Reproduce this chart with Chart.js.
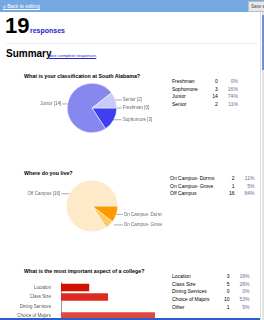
<!DOCTYPE html>
<html>
<head>
<meta charset="utf-8">
<script src="https://cdn.jsdelivr.net/npm/chart.js@4/dist/chart.umd.min.js"></script>
<style>
  html, body { margin: 0; padding: 0; width: 264px; height: 320px; overflow: hidden; background: #fff; font-family: "Liberation Sans", Arial, sans-serif; }
  .abs { position: absolute; }
  #topbar { left: 0; top: 0; width: 264px; height: 12px; background: #74a8e2; }
  #back { left: 3px; top: 3px; font-size: 5px; color: #fff; text-decoration: underline; }
  #savebtn { left: 248px; top: 1px; width: 18px; height: 9px; background: #e8e8e8; border: 1px solid #bbb; font-size: 4.5px; color: #444; line-height: 9px; padding-left: 2px; }
  #count { left: 5px; top: 13px; font-size: 22px; font-weight: bold; color: #000; }
  #resp { left: 30px; top: 27px; font-size: 7px; font-weight: bold; color: #2424c8; }
  #sep { left: 6px; top: 43px; width: 252px; height: 1px; background: #eee; }
  #summary { left: 6px; top: 48px; font-size: 10px; font-weight: bold; color: #000; }
  #seeall { left: 49px; top: 53px; font-size: 4.3px; color: #2424c8; text-decoration: underline; }
  .q { font-size: 5.3px; font-weight: bold; color: #000; white-space: nowrap; }
  table.t { position: absolute; border-collapse: collapse; font-size: 5px; color: #000; }
  table.t td { padding: 0; height: 7.7px; line-height: 7.7px; white-space: nowrap; }
  table.t td.n { text-align: right; width: 20px; }
  table.t td.p { text-align: right; width: 20px; color: #6a6a9a; }
  #rborder { left: 260px; top: 12px; width: 1px; height: 308px; background: #ddd; }
  #sbar { left: 262px; top: 12px; width: 2px; height: 308px; background: #e4e4e4; }
  #thumb { left: 262px; top: 15px; width: 2px; height: 55px; background: #6f8fd0; }
  #bottomline { left: 0; top: 318px; width: 260px; height: 2px; background: #2a5fc8; }
  canvas { position: absolute; }
</style>
</head>
<body>
<div id="topbar" class="abs"></div>
<div id="back" class="abs">« Back to editing</div>
<div id="savebtn" class="abs">Save as</div>
<div id="rborder" class="abs"></div>
<div id="sbar" class="abs"></div>
<div id="thumb" class="abs"></div>

<div id="count" class="abs">19</div>
<div id="resp" class="abs">responses</div>
<div id="sep" class="abs"></div>
<div id="summary" class="abs">Summary</div>
<div id="seeall" class="abs">See complete responses</div>

<div class="abs q" style="left:24px;top:73px">What is your classification at South Alabama?</div>
<canvas id="pie1" width="140" height="50" style="left:22px;top:83px"></canvas>
<table class="t" id="tab1" style="left:172px;top:78px"></table>

<div class="abs q" style="left:24px;top:170px">Where do you live?</div>
<canvas id="pie2" width="140" height="52" style="left:22px;top:180px"></canvas>
<table class="t" id="tab2" style="left:170px;top:175px"></table>

<div class="abs q" style="left:24px;top:268px">What is the most important aspect of a college?</div>
<canvas id="bar1" width="160" height="57" style="left:0px;top:278px"></canvas>
<table class="t" id="tab3" style="left:172px;top:273px"></table>

<div id="bottomline" class="abs"></div>

<script>
// pregunta 1
const clasesLabels = ['Freshman', 'Sophomore', 'Junior', 'Senior'];
const clasesValores = [0, 3, 14, 2];
const clasesPct = ['0%', '16%', '74%', '11%'];
const clasesColores = ['#1c1ce6', '#3f3ff0', '#8787f0', '#cacaf6'];

// pregunta 2
const viviendaLabels = ['On Campus- Dorms', 'On Campus- Grove', 'Off Campus'];
const viviendaValores = [2, 1, 16];
const viviendaPct = ['11%', '5%', '84%'];
const viviendaColores = ['#ff9900', '#ffc866', '#fee9c8'];

// pregunta 3
const aspectoLabels = ['Location', 'Class Size', 'Dining Services', 'Choice of Majors', 'Other'];
const aspectoValores = [3, 5, 0, 10, 1];
const aspectoPct = ['16%', '26%', '0%', '53%', '5%'];
const aspectoColores = ['#d11100', '#dc2b21', '#df3a30', '#e0483f', '#e45650'];

function llenarTabla(id, labels, valores, pct) {
    const tabla = document.getElementById(id);
    labels.forEach((l, i) => {
        const tr = document.createElement('tr');
        tr.innerHTML = '<td>' + l + '</td><td class="n">' + valores[i] + '</td><td class="p">' + pct[i] + '</td>';
        tabla.appendChild(tr);
    });
}

// etiquetas con linea guia, como en las tartas de google
const etiquetasTarta = {
    id: 'etiquetasTarta',
    afterDraw(chart) {
        const ctx = chart.ctx;
        const meta = chart.getDatasetMeta(0);
        const labels = chart.data.labels;
        const valores = chart.data.datasets[0].data;
        ctx.save();
        ctx.font = '4.5px "Liberation Sans", Arial, sans-serif';
        ctx.textBaseline = 'middle';
        meta.data.forEach((arc, i) => {
            const mid = (arc.startAngle + arc.endAngle) / 2;
            const r = arc.outerRadius;
            const ex = arc.x + r * Math.cos(mid);
            const y = arc.y + r * Math.sin(mid);
            const derecha = Math.cos(mid) >= 0;
            const x0 = derecha ? Math.max(ex, arc.x + r * 0.85) : Math.min(ex, arc.x - r * 0.85);
            const x1 = derecha ? arc.x + r + 5 : arc.x - r - 5;
            ctx.strokeStyle = '#888';
            ctx.lineWidth = 0.7;
            ctx.beginPath();
            ctx.moveTo(x0, y);
            ctx.lineTo(x1, y);
            ctx.stroke();
            ctx.fillStyle = '#666';
            ctx.textAlign = derecha ? 'left' : 'right';
            ctx.fillText(labels[i] + ' [' + valores[i] + ']', derecha ? x1 + 1 : x1 - 1, y);
        });
        ctx.restore();
    }
};

function crearTarta(id, labels, valores, colores) {
    new Chart(document.getElementById(id), {
        type: 'pie',
        data: {
            labels: labels,
            datasets: [{
                data: valores,
                backgroundColor: colores,
                borderColor: '#ffffff',
                borderWidth: 0.5
            }]
        },
        options: {
            responsive: false,
            animation: false,
            rotation: 90,
            layout: { padding: 0 },
            plugins: {
                legend: { display: false },
                tooltip: { enabled: false }
            }
        },
        plugins: [etiquetasTarta]
    });
}

function crearBarras(id, labels, valores, colores) {
    new Chart(document.getElementById(id), {
        type: 'bar',
        data: {
            labels: labels,
            datasets: [{
                data: valores,
                backgroundColor: colores,
                barPercentage: 0.8,
                categoryPercentage: 1
            }]
        },
        options: {
            indexAxis: 'y',
            responsive: false,
            animation: false,
            layout: { padding: { left: 0, right: 5, top: 0, bottom: 0 } },
            scales: {
                x: { display: false, min: 0, max: 10 },
                y: {
                    afterFit(scale) { scale.width = 61; },
                    grid: { display: false },
                    border: { display: true, color: '#999', width: 1 },
                    ticks: {
                        color: '#555',
                        padding: 2,
                        font: { size: 4.5, family: '"Liberation Sans", Arial, sans-serif' }
                    }
                }
            },
            plugins: {
                legend: { display: false },
                tooltip: { enabled: false }
            }
        }
    });
}

llenarTabla('tab1', clasesLabels, clasesValores, clasesPct);
llenarTabla('tab2', viviendaLabels, viviendaValores, viviendaPct);
llenarTabla('tab3', aspectoLabels, aspectoValores, aspectoPct);

crearTarta('pie1', clasesLabels, clasesValores, clasesColores);
crearTarta('pie2', viviendaLabels, viviendaValores, viviendaColores);
crearBarras('bar1', aspectoLabels, aspectoValores, aspectoColores);
</script>
</body>
</html>
